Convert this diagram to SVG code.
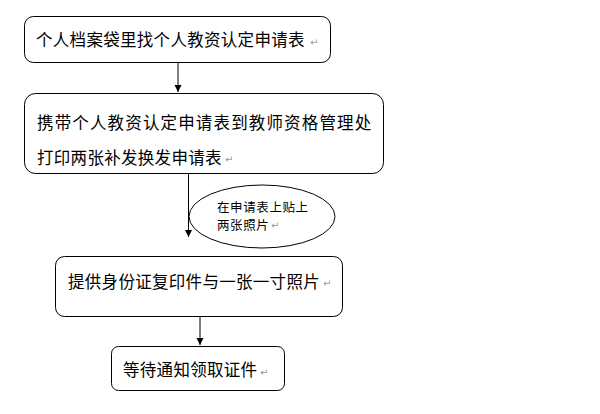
<svg xmlns="http://www.w3.org/2000/svg" width="600" height="414" viewBox="0 0 600 414">
<style>
.box{fill:#fff;stroke:#000;stroke-width:1}
.t{font-family:"Noto Sans CJK SC",sans-serif;font-size:16.5px;fill:#000}
.s{font-family:"Noto Sans CJK SC",sans-serif;font-size:12.5px;fill:#000;letter-spacing:0.6px}
.r{font-family:"DejaVu Sans",sans-serif;font-size:10px;fill:#999}
.ln{stroke:#000;stroke-width:1;fill:none}
</style>
<defs>
<marker id="ah" markerWidth="8" markerHeight="8" refX="7" refY="4" orient="auto" markerUnits="userSpaceOnUse">
<path d="M0,0.5 L7,4 L0,7.5 Z" fill="#000"/>
</marker>
</defs>
<rect width="600" height="414" fill="#fff"/>
<g id="connectors">
<line class="ln" x1="178" y1="62" x2="178" y2="92" marker-end="url(#ah)"/>
<line class="ln" x1="188.5" y1="173" x2="188.5" y2="237" marker-end="url(#ah)"/>
<line class="ln" x1="200" y1="317" x2="200" y2="345" marker-end="url(#ah)"/>
</g>
<g id="n1">
<rect class="box" x="24.5" y="16.5" width="306" height="46" rx="9"/>
<text class="t" x="36" y="46" letter-spacing="0.3">个人档案袋里找个人教资认定申请表</text>
<text class="r" x="310" y="46">↵</text>
</g>
<g id="n2">
<rect class="box" x="24.5" y="93.5" width="359" height="80" rx="11"/>
<text class="t" x="37" y="129" letter-spacing="1.15">携带个人教资认定申请表到教师资格管理处</text>
<text class="t" x="37" y="164" letter-spacing="0.3">打印两张补发换发申请表</text>
<text class="r" x="225" y="163">↵</text>
</g>
<g id="n3">
<ellipse class="box" cx="262" cy="216.5" rx="73" ry="31.5"/>
<text class="s" x="217" y="212">在申请表上贴上</text>
<text class="s" x="217" y="230">两张照片</text>
<text class="r" x="271" y="229">↵</text>
</g>
<g id="n4">
<rect class="box" x="55.5" y="256.5" width="287" height="60" rx="9"/>
<text class="t" x="68" y="288" letter-spacing="0.3">提供身份证复印件与一张一寸照片</text>
<text class="r" x="323" y="287">↵</text>
</g>
<g id="n5">
<rect class="box" x="111.5" y="346.5" width="173" height="44" rx="7"/>
<text class="t" x="123" y="376" letter-spacing="0.3">等待通知领取证件</text>
<text class="r" x="260" y="376">↵</text>
</g>
</svg>
